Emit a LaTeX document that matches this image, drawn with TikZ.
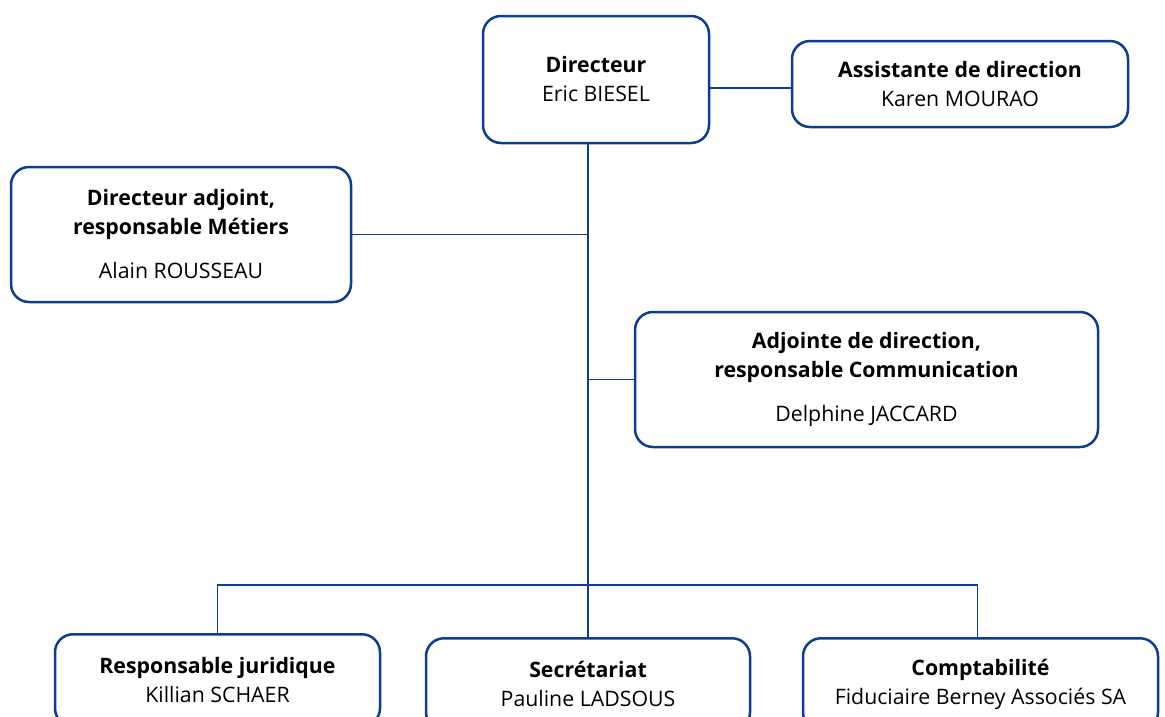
\documentclass[tikz,border=0pt]{standalone}
\usepackage{fontspec}
\setmainfont{Open Sans}
\usetikzlibrary{positioning}
\definecolor{orgblue}{HTML}{0B3D91}

\begin{document}
\begin{tikzpicture}[
    x=1pt, y=-1pt, % pixel-like units, y grows downwards
    box/.style={draw=orgblue, line width=2.5pt, rounded corners=18pt, fill=white,
        align=center, inner sep=0pt, font=\fontsize{21.3}{29}\selectfont},
    link/.style={draw=orgblue, line width=1.7pt}
]
\useasboundingbox (0,0) rectangle (1165,716);
\clip (0,0) rectangle (1165,716);

% Boxes
\node[box, minimum width=226pt, minimum height=127pt] (dir) at (596,79.5)
    {\textbf{Directeur}\\Eric BIESEL};
\node[box, minimum width=336pt, minimum height=86pt] (asst) at (960,84)
    {\textbf{Assistante de direction}\\Karen MOURAO};
\node[box, minimum width=340pt, minimum height=135pt] (adj) at (181,234.5)
    {\textbf{Directeur adjoint,}\\\textbf{responsable Métiers}\\[15pt]Alain ROUSSEAU};
\node[box, minimum width=463pt, minimum height=135pt] (com) at (866.5,379.5)
    {\textbf{Adjointe de direction,}\\\textbf{responsable Communication}\\[15pt]Delphine JACCARD};

\node[box, anchor=north, minimum width=325pt, minimum height=92pt] (jur) at (217.5,633)
    {\textbf{Responsable juridique}\\Killian SCHAER};
\node[box, anchor=north, minimum width=324pt, minimum height=92pt] (sec) at (588,637)
    {\textbf{Secrétariat}\\Pauline LADSOUS};
\node[box, anchor=north, minimum width=355pt, minimum height=92pt] (cpt) at (980.5,637)
    {\textbf{Comptabilité}\\Fiduciaire Berney Associés SA};

\coordinate (bus) at (588,585);

% Connectors
\draw[link] ([yshift=-4pt]asst.west -| dir.east) -- ([yshift=-4pt]asst.west);
\draw[link] (dir.south -| sec.north) -- (sec.north);
\draw[link] (adj.east) -- (adj.east -| sec.north);
\draw[link] (com.west) -- (com.west -| sec.north);
\draw[link] (jur.north) -- (jur.north |- bus) -- ([xshift=-3pt]cpt.north |- bus) -- ([xshift=-3pt]cpt.north);

\end{tikzpicture}
\end{document}
